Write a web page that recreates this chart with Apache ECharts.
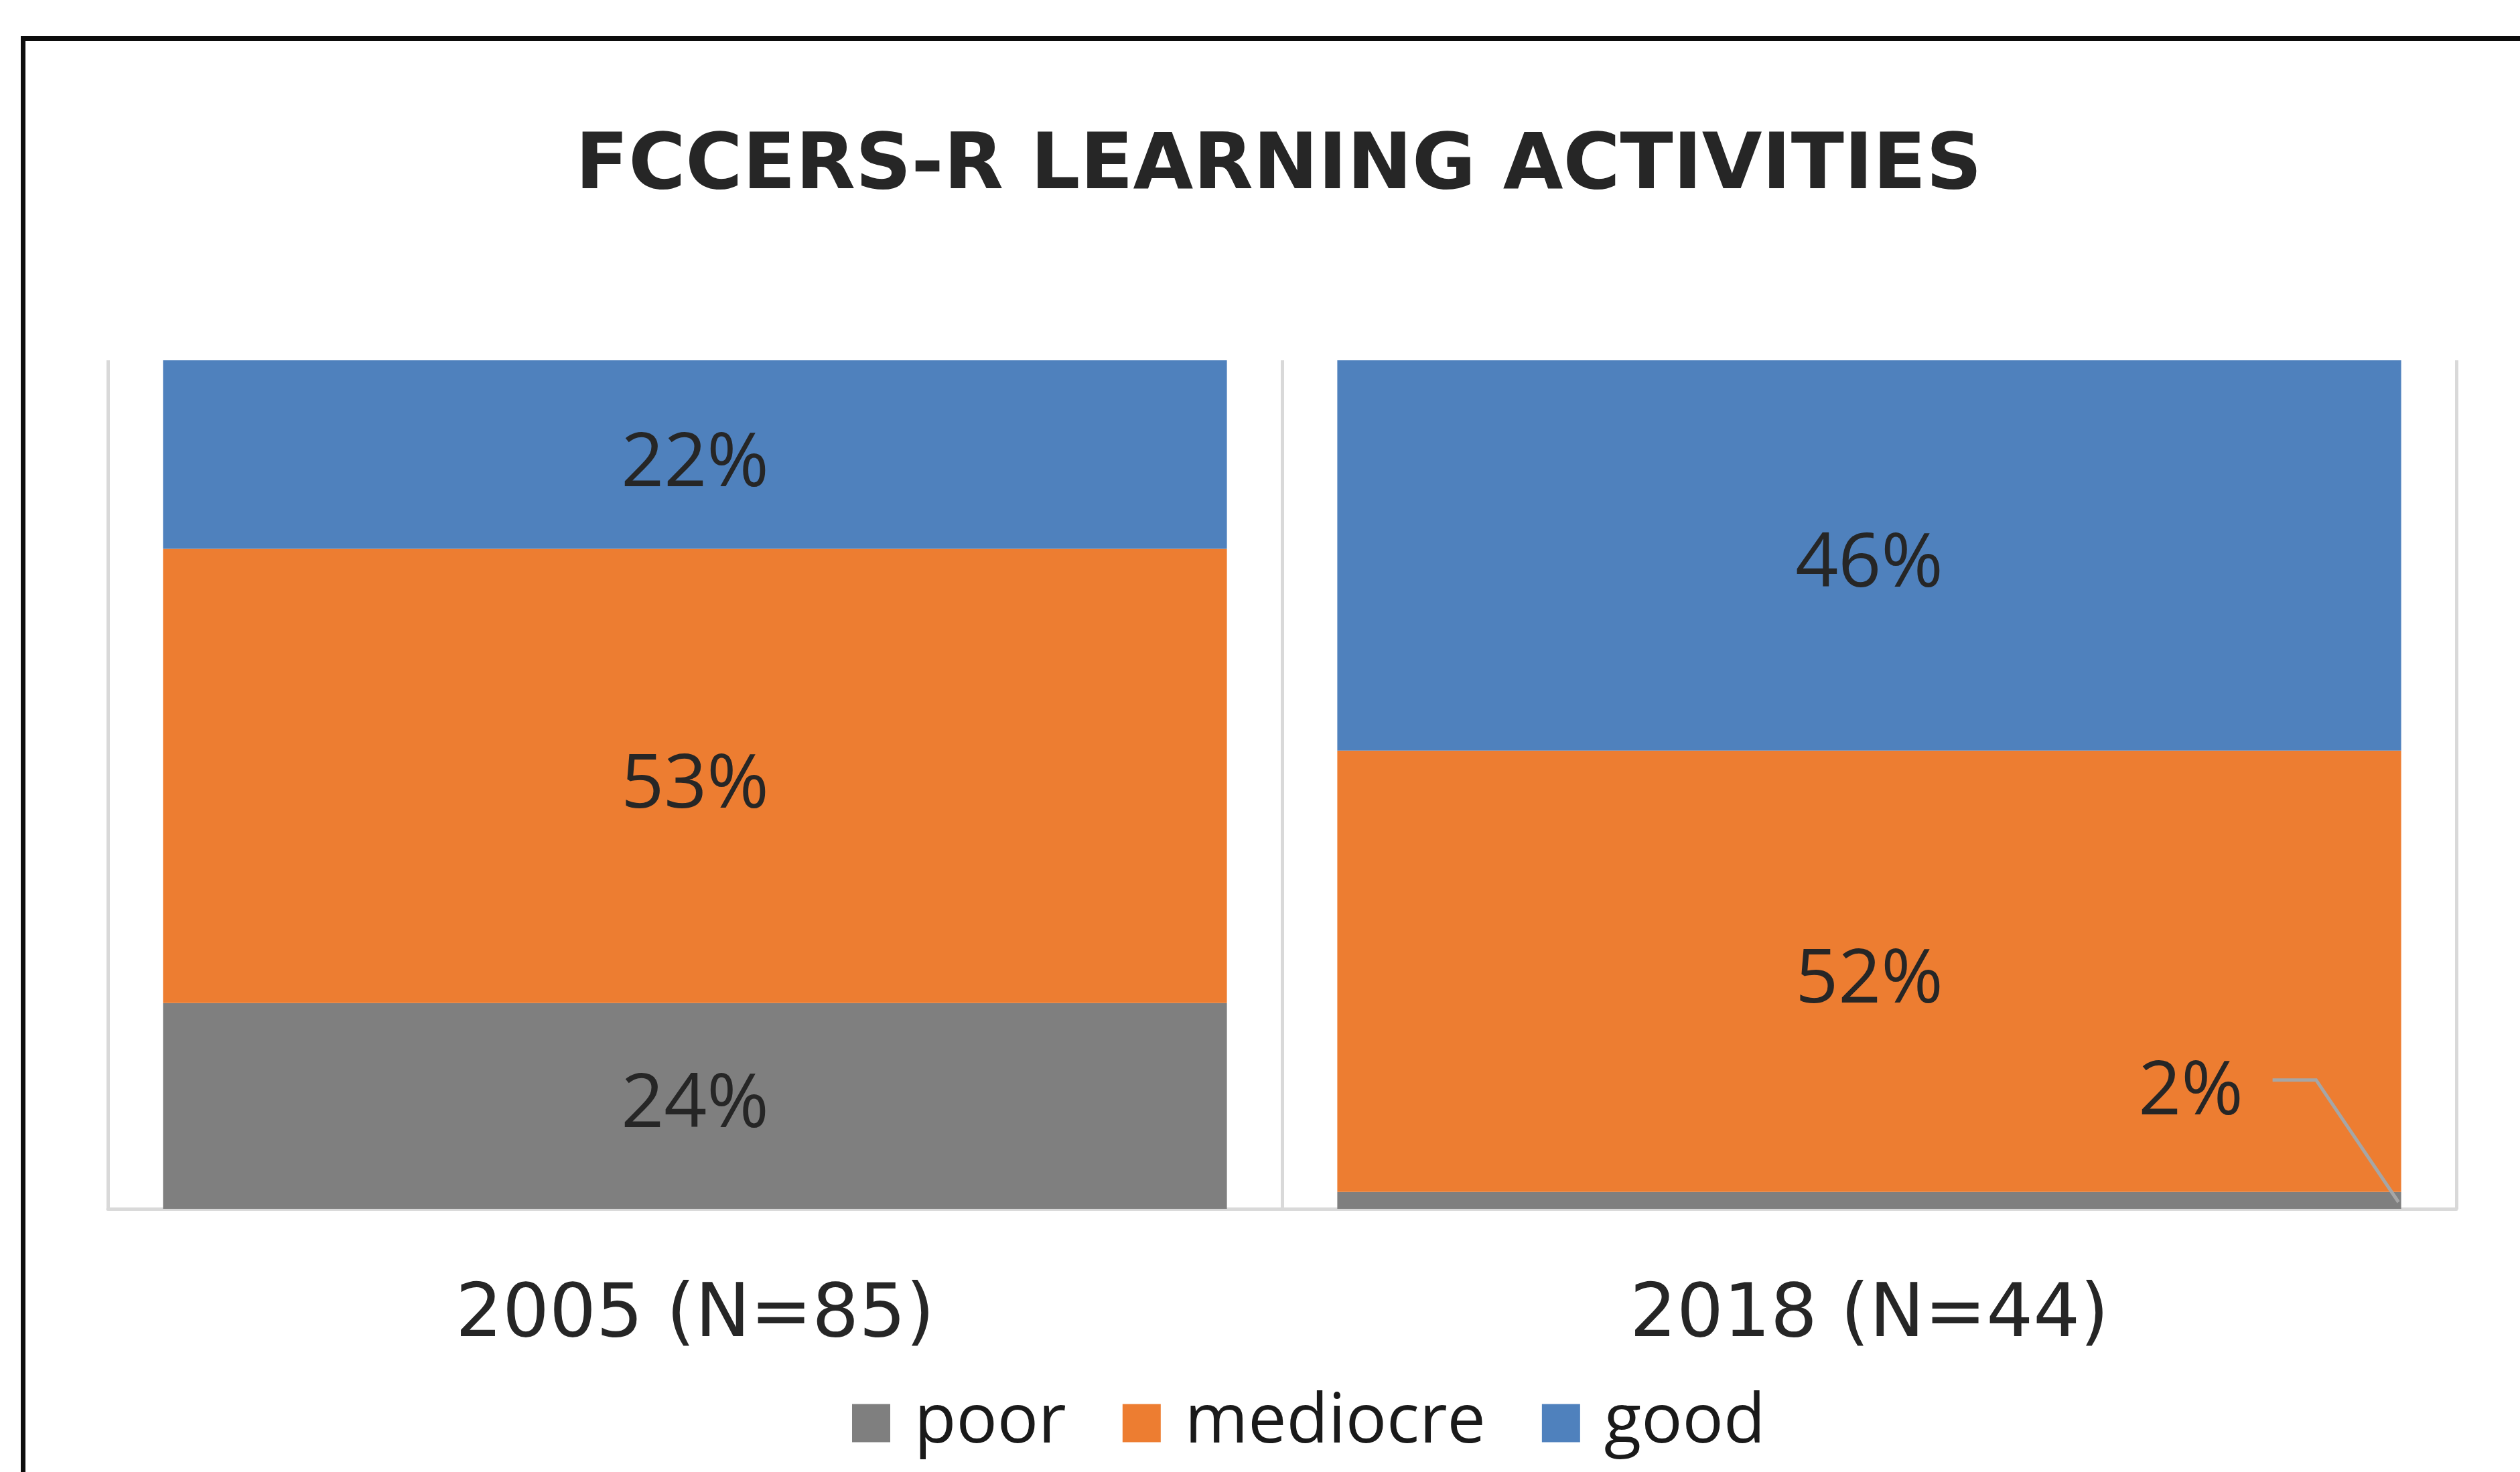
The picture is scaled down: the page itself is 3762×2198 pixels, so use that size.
<!DOCTYPE html>
<html>
<head>
<meta charset="utf-8">
<script src="https://cdn.jsdelivr.net/npm/echarts@6/dist/echarts.min.js"></script>
<style>
    html, body { margin: 0; padding: 0; background: #fff; }
    #chart { width: 3762px; height: 2198px; }
</style>
</head>
<body>
<div id="chart"></div>
<script>
let categories = ['2005 (N=85)', '2018 (N=44)'];
let poor = [24, 2];
let mediocre = [53, 52];
let good = [22, 46];

let seriesNames = ['poor', 'mediocre', 'good'];
let seriesColors = ['#7f7f7f', '#ed7d31', '#4f81bd'];
let barWidthRatio = 0.906;

// 100% stacked: each column is scaled to its own total
let totals = categories.map(function (c, i) {
    return poor[i] + mediocre[i] + good[i];
});

function toPercent(arr) {
    return arr.map(function (v, i) {
        return { value: v / totals[i] * 100, raw: v };
    });
}

function makeSeries(name, arr, color) {
    return {
        name: name,
        type: 'bar',
        stack: 'total',
        barWidth: (barWidthRatio * 100) + '%',
        itemStyle: { color: color },
        label: {
            show: true,
            position: 'inside',
            offset: [0, 15],
            fontFamily: 'Open Sans',
            fontSize: 112,
            color: '#262626',
            formatter: function (p) { return p.data.raw + '%'; }
        },
        data: toPercent(arr)
    };
}

let series = [
    makeSeries('poor', poor, seriesColors[0]),
    makeSeries('mediocre', mediocre, seriesColors[1]),
    makeSeries('good', good, seriesColors[2])
];

// the tiny 2018 "poor" slice: label moved up-left of the bar corner
let calloutDx = -314, calloutDy = -148;
series[0].labelLayout = function (params) {
    if (params.dataIndex !== 1) {
        return {};
    }
    return {
        x: params.rect.x + params.rect.width + calloutDx,
        y: params.rect.y + calloutDy,
        align: 'center',
        verticalAlign: 'middle'
    };
};

let myChart = echarts.init(document.getElementById('chart'));

let option = {
    backgroundColor: '#fff',
    animation: false,
    title: {
        text: 'FCCERS-R LEARNING ACTIVITIES',
        left: 859,
        top: 193,
        padding: 0,
        textStyle: {
            fontFamily: 'DejaVu Sans',
            fontWeight: 'bold',
            fontSize: 116,
            lineHeight: 116,
            color: '#262626'
        }
    },
    legend: {
        data: seriesNames,
        left: 1272,
        top: 2074,
        padding: 0,
        icon: 'rect',
        itemWidth: 57,
        itemHeight: 57,
        itemGap: 84,
        textStyle: {
            fontFamily: 'Open Sans',
            fontSize: 102,
            lineHeight: 57,
            color: '#1a1a1a',
            padding: [0, 0, 0, 31]
        }
    },
    grid: {
        left: 161,
        right: 95,
        top: 538,
        bottom: 393
    },
    xAxis: {
        type: 'category',
        data: categories,
        axisTick: { show: false },
        axisLine: { lineStyle: { color: '#d9d9d9', width: 5 } },
        splitLine: { show: true, lineStyle: { color: '#d9d9d9', width: 5 } },
        axisLabel: {
            fontFamily: 'DejaVu Sans',
            fontSize: 110,
            lineHeight: 110,
            color: '#262626',
            margin: 106
        }
    },
    yAxis: {
        type: 'value',
        min: 0,
        max: 100,
        show: false
    },
    graphic: [
        {
            type: 'rect',
            left: 31,
            top: 54,
            shape: { width: 3900, height: 2300 },
            style: { fill: 'none', stroke: '#0d0d0d', lineWidth: 7 },
            silent: true
        }
    ],
    series: series
};

myChart.setOption(option);

// leader line for the "2%" callout, placed from the axis scales
let p0 = myChart.convertToPixel({ gridIndex: 0 }, [0, 0]);
let p1 = myChart.convertToPixel({ gridIndex: 0 }, [1, 0]);
let barRight = p1[0] + (p1[0] - p0[0]) * barWidthRatio / 2;
let stripTop = myChart.convertToPixel({ gridIndex: 0 }, [1, poor[1] / totals[1] * 100])[1];
let lx = barRight + calloutDx;
let ly = stripTop + calloutDy;

myChart.setOption({
    graphic: [
        {
            type: 'rect',
            left: 31,
            top: 54,
            shape: { width: 3900, height: 2300 },
            style: { fill: 'none', stroke: '#0d0d0d', lineWidth: 7 },
            silent: true
        },
        {
            type: 'polyline',
            shape: { points: [[lx + 122, ly - 19], [lx + 187, ly - 19], [barRight - 4, p1[1] - 10]] },
            style: { fill: 'none', stroke: '#a6a6a6', lineWidth: 5 },
            z: 10,
            silent: true
        }
    ]
});
</script>
</body>
</html>
